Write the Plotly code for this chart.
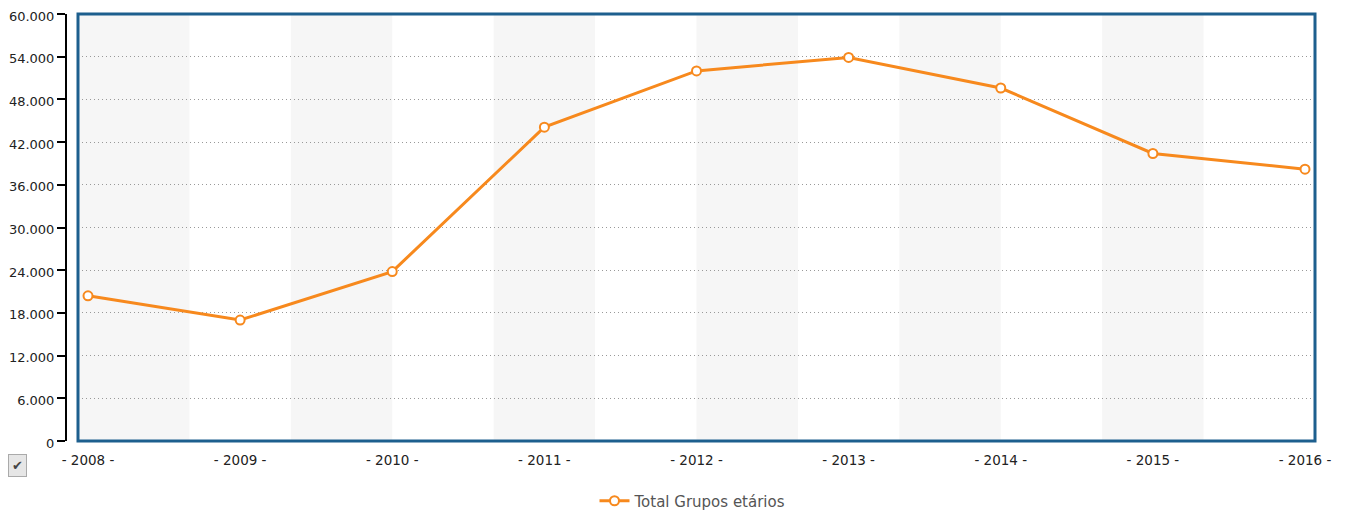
import plotly.graph_objects as go

# values
years = [2008, 2009, 2010, 2011, 2012, 2013, 2014, 2015, 2016]
total = [20400, 17000, 23800, 44100, 52000, 53900, 49600, 40400, 38200]
year_labels = [f"- {y} -" for y in years]
y_ticks = [0, 6000, 12000, 18000, 24000, 30000, 36000, 42000, 48000, 54000, 60000]
series_name = "Total Grupos etários"

# the page puts the figure 8px in from the corner, so size it to fit the window
W, H = 1333, 509
left, right, top, bottom = 58, 26, 6, 76
plot_w = W - left - right
plot_h = H - top - bottom
x_dom0 = 12 / plot_w
pad = 10 / 152.125

fig = go.Figure()

fig.add_trace(go.Scatter(
    x=years, y=total, mode="lines+markers", name=series_name,
    line=dict(color="#f7891d", width=3),
    marker=dict(symbol="circle", size=9, color="white",
                line=dict(color="#f7891d", width=2)),
    showlegend=True))

# alternating grey background bands, each 2/3 of a year wide
band = 2 / 3
shapes = [dict(type="rect", xref="x", yref="paper", x0=years[0] - pad, x1=years[0] + band,
               y0=0, y1=1, fillcolor="#f6f6f6", line=dict(width=0), layer="below")]
k = 1
while years[0] + 2 * k * band < years[-1] - 1e-9:
    shapes.append(dict(type="rect", xref="x", yref="paper",
                       x0=years[0] + 2 * k * band, x1=years[0] + (2 * k + 1) * band,
                       y0=0, y1=1, fillcolor="#f6f6f6", line=dict(width=0), layer="below"))
    k += 1

# blue frame around the plot area
shapes.append(dict(type="rect", xref="paper", yref="paper", x0=x_dom0, x1=1, y0=0, y1=1,
                   line=dict(color="#1d5f8e", width=3), layer="above"))

fig.update_layout(
    width=W, height=H,
    margin=dict(l=left, r=right, t=top, b=bottom, autoexpand=False),
    paper_bgcolor="white", plot_bgcolor="white",
    separators=",.",
    font=dict(family="DejaVu Sans", size=13, color="#222"),
    shapes=shapes,
    showlegend=True,
    legend=dict(orientation="h", x=0.502, xanchor="center", y=-(493 - 433) / plot_h,
                yanchor="middle", itemwidth=30, font=dict(size=15, color="#555")),
    xaxis=dict(domain=[x_dom0, 1], range=[years[0] - pad, years[-1] + pad], automargin=False,
               tickvals=years, ticktext=year_labels, showgrid=False, zeroline=False,
               showline=False, ticks="outside", ticklen=7, tickcolor="rgba(0,0,0,0)",
               ticklabeloverflow="allow", tickfont=dict(size=13.5, color="#222")),
    yaxis=dict(range=[0, 60000], tickvals=y_ticks, tickformat=",.0f", automargin=False,
               anchor="free", position=0, showline=True, linecolor="black", linewidth=2,
               ticks="outside", ticklen=8, tickwidth=2, tickcolor="black",
               ticklabeloverflow="allow", ticklabelshift=2,
               showgrid=True, gridcolor="#999", gridwidth=1, griddash="1px,3px",
               zeroline=False, tickfont=dict(size=13, color="#222")),
    annotations=[dict(xref="paper", yref="paper", x=(9 - left) / plot_w, y=-(457 - 433) / plot_h,
                      xanchor="center", yanchor="middle",
                      text="✔", showarrow=False, font=dict(size=13, color="#444"),
                      bgcolor="#e6e6e6", bordercolor="#aaa", borderwidth=1, borderpad=3)],
)

fig.write_html("out.html")
